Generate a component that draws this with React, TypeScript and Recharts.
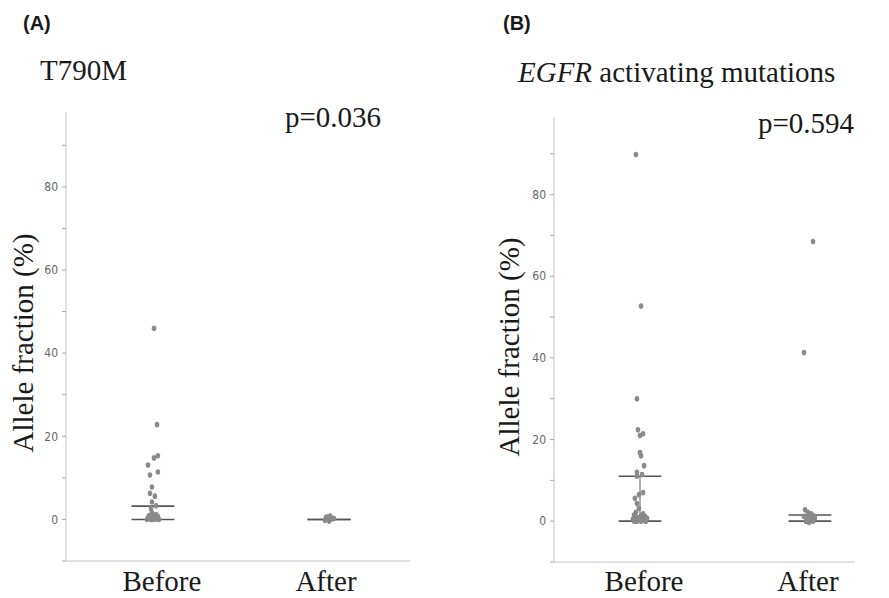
import React from 'react';
import {
    ScatterChart, Scatter, XAxis, YAxis, ReferenceLine,
} from 'recharts';

// Panel A: T790M allele fraction (%), x = group (1 Before, 2 After) with jitter
const beforeA_y = [46, 22.8, 15.3, 14.8, 13.1, 11.4, 10.7, 7.8, 6.3, 5.6, 4.2, 3.3, 2.6,
    1.6, 1.2, 0.9, 0.7, 0.5, 0.4, 0.3, 0.2, 0.1, 0.1, 0, 0, 0, 0, 0.6, 1.0];
const beforeA_x = [1.006, 1.023, 1.028, 1.006, 0.972, 1.028, 0.983, 0.994, 0.983, 1.011, 0.994, 1.017, 0.989,
    0.994, 1.017, 0.977, 1.028, 1.0, 0.972, 1.011, 0.989, 1.023, 0.983, 1.006, 0.966, 1.034, 0.994, 1.011, 0.989];
const afterA_y = [0.8, 0.5, 0.3, 0.1, 0, -0.2, 0.2, -0.4, 0.6];
const afterA_x = [2.006, 1.983, 2.023, 1.994, 2.011, 1.977, 2.028, 2.0, 1.989];

// Panel B: EGFR activating mutations
const beforeB_y = [89.8, 52.7, 30, 22.4, 21.4, 21, 16.8, 16.0, 13.6, 12.0, 11.4, 11.0, 7.0, 6.5, 5.6, 4.3, 3.1,
    2.2, 1.8, 1.5, 1.2, 1.0, 0.8, 0.6, 0.5, 0.4, 0.3, 0.2, 0.1, 0, 0, 0, 0, 0.7, 1.4];
const beforeB_x = [0.976, 1.006, 0.982, 0.988, 1.018, 1.0, 1.0, 1.006, 1.024, 0.982, 1.012, 0.982, 1.018, 0.994, 0.97, 0.982, 0.994,
    0.976, 1.018, 0.965, 1.029, 1.0, 0.982, 1.035, 0.959, 1.012, 0.988, 1.024, 0.97, 1.006, 0.982, 1.035, 0.965, 1.041, 1.006];
const afterB_y = [68.5, 41.3, 2.8, 2.2, 1.8, 1.4, 1.0, 0.8, 0.6, 0.4, 0.2, 0, 0, -0.3, 1.2];
const afterB_x = [2.018, 1.965, 1.971, 1.988, 2.006, 2.018, 1.994, 2.029, 1.982, 2.012, 2.0, 1.976, 2.018, 1.994, 1.965];

// summary bars: [group, lower, upper]
const barsA = [[1, 0, 3.2], [2, 0, 0]];
const barsB = [[1, 0, 11], [2, 0, 1.5]];

const yTicks = [-10, 0, 10, 20, 30, 40, 50, 60, 70, 80, 90];
const groupLabels = ['Before', 'After'];

const zip = (xs: number[], ys: number[]) => ys.map((y, i) => ({ x: xs[i], y }));

const SERIF = '"Liberation Serif", "Times New Roman", serif';
const DOT = '#8a8a8a';
const BAR = '#555';
const AXIS = '#c4c4c4';

const Dot = (p: any) => <ellipse cx={p.cx} cy={p.cy} rx={2.3} ry={2.8} fill={DOT} />;

interface PanelProps {
    left: number;
    width: number;
    margin: { top: number; right: number; bottom: number; left: number };
    xDomain: [number, number];
    yDomain: [number, number];
    before: { x: number; y: number }[];
    after: { x: number; y: number }[];
    bars: number[][];
    halfWidth: number;
    labelShift: number[];
    stem: boolean;
}

const Panel: React.FC<PanelProps> = ({ left, width, margin, xDomain, yDomain, before, after, bars, halfWidth, labelShift, stem }) => {
    const GroupTick = (props: any) => {
        const i = props.payload.value === 1 ? 0 : 1;
        return (
            <text x={props.x + labelShift[i]} y={591} textAnchor="middle" fontFamily={SERIF} fontSize={29} fill="#1a1a1a">
                {groupLabels[i]}
            </text>
        );
    };
    return (
        <div style={{ position: 'absolute', left, top: 0 }}>
            <ScatterChart width={width} height={598} margin={margin}>
                <XAxis type="number" dataKey="x" domain={xDomain} ticks={[1, 2]} allowDataOverflow
                    tickLine={false} axisLine={{ stroke: AXIS }} height={30} tick={<GroupTick />} />
                <YAxis type="number" dataKey="y" domain={yDomain} ticks={yTicks} allowDataOverflow width={30}
                    tickSize={4} tickMargin={4} axisLine={{ stroke: AXIS }} tickLine={{ stroke: '#aaa' }}
                    tickFormatter={(v: number) => (v >= 0 && v % 20 === 0 ? String(v) : '')}
                    tick={{ fontSize: 12, fill: '#666', fontFamily: '"Liberation Sans Narrow", "DejaVu Sans Condensed", "Liberation Sans", sans-serif' }} />
                {bars.map(([g, lo, hi]) => (
                    <React.Fragment key={g}>
                        <ReferenceLine segment={[{ x: g - halfWidth, y: lo }, { x: g + halfWidth, y: lo }]} stroke={BAR} strokeWidth={1.6} />
                        <ReferenceLine segment={[{ x: g - halfWidth, y: hi }, { x: g + halfWidth, y: hi }]} stroke={BAR} strokeWidth={1.6} />
                        {stem && hi > 2 && (
                            <ReferenceLine segment={[{ x: g, y: lo }, { x: g, y: hi }]} stroke="#666" strokeWidth={1} />
                        )}
                    </React.Fragment>
                ))}
                <Scatter data={before} shape={Dot} isAnimationActive={false} />
                <Scatter data={after} shape={Dot} isAnimationActive={false} />
            </ScatterChart>
        </div>
    );
};

export default function App() {
    return (
        <div style={{ position: 'fixed', left: 0, top: 0, width: 889, height: 598, background: '#fff', overflow: 'hidden' }}>
            <Panel left={0} width={430} margin={{ top: 112, right: 20, bottom: 7, left: 36 }}
                xDomain={[0.506, 2.46]} yDomain={[-10, 98]}
                before={zip(beforeA_x, beforeA_y)} after={zip(afterA_x, afterA_y)}
                bars={barsA} halfWidth={0.122} labelShift={[9, -3]} stem={false} />
            <Panel left={460} width={429} margin={{ top: 117, right: 34, bottom: 6, left: 64 }}
                xDomain={[0.494, 2.265]} yDomain={[-10, 99]}
                before={zip(beforeB_x, beforeB_y)} after={zip(afterB_x, afterB_y)}
                bars={barsB} halfWidth={0.126} labelShift={[4, -2]} stem={true} />
            <svg width={889} height={598} style={{ position: 'absolute', left: 0, top: 0, pointerEvents: 'none' }}>
                <g fontFamily={SERIF} fontSize={29} fill="#1a1a1a">
                    <text x={40} y={80}>T790M</text>
                    <text x={285} y={127}>p=0.036</text>
                    <text x={518} y={82}><tspan fontStyle="italic">EGFR</tspan> activating mutations</text>
                    <text x={758} y={133}>p=0.594</text>
                    <text transform="translate(33,343) rotate(-90)" textAnchor="middle" fontSize={29}>Allele fraction (%)</text>
                    <text transform="translate(519,347) rotate(-90)" textAnchor="middle" fontSize={29}>Allele fraction (%)</text>
                </g>
                <g fontFamily='"Liberation Sans", Arial, sans-serif' fontWeight="bold" fontSize={20} fill="#1a1a1a">
                    <text x={23} y={30}>(A)</text>
                    <text x={503} y={30}>(B)</text>
                </g>
            </svg>
        </div>
    );
}
